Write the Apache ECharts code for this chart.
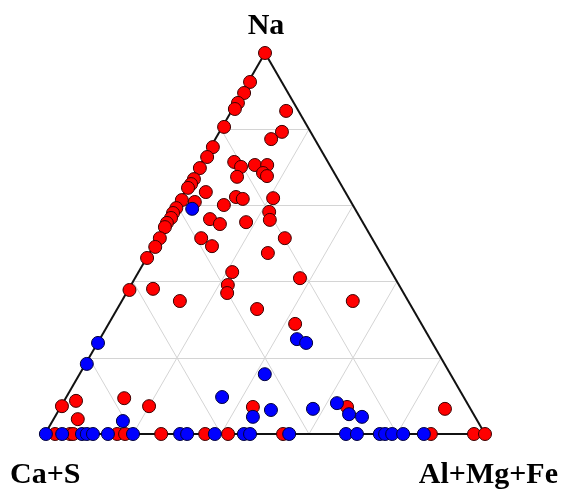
<!DOCTYPE html>
<html>
<head>
<meta charset="utf-8">
<script src="https://cdn.jsdelivr.net/npm/echarts@6/dist/echarts.min.js"></script>
<style>
  html, body { margin: 0; padding: 0; background: #fff; }
  #chart { width: 563px; height: 494px; }
</style>
</head>
<body>
<div id="chart"></div>
<script>
// vertex names
var corners = ['Ca+S', 'Na', 'Al+Mg+Fe'];
// grid levels, percent
var gridTicks = [20, 40, 60, 80];

// [Ca+S, Na, Al+Mg+Fe] in percent
var redPoints = [
  [0, 100, 0], [7.2, 92.4, 0.4], [10.0, 89.5, 0.5], [12.7, 86.9, 0.4], [14.2, 85.3, 0.5],
  [2.8, 84.8, 12.4], [19.0, 80.6, 0.4], [6.5, 79.3, 14.2], [9.9, 77.4, 12.7], [24.2, 75.3, 0.5],
  [26.8, 72.7, 0.5], [29.9, 69.8, 0.3], [21.3, 71.4, 7.3], [20.4, 70.1, 9.5], [17.0, 70.6, 12.4],
  [14.2, 70.6, 15.2], [16.2, 68.5, 15.3], [15.7, 67.7, 16.6], [22.6, 67.5, 9.9], [32.7, 66.9, 0.4],
  [34.0, 65.6, 0.4], [35.2, 64.6, 0.2], [31.7, 63.5, 4.8], [25.5, 62.2, 12.3], [24.2, 61.7, 14.1],
  [17.2, 61.9, 20.9], [38.2, 61.4, 0.4], [35.5, 60.9, 3.6], [29.3, 60.1, 10.6], [40.5, 59.3, 0.2],
  [41.9, 58.0, 0.1], [43.0, 56.7, 0.3], [44.6, 55.4, 0.0], [45.6, 54.3, 0.1], [19.9, 58.3, 21.8],
  [20.8, 56.2, 23.0], [34.3, 56.4, 9.3], [32.7, 55.1, 12.2], [26.5, 55.6, 17.9], [48.2, 51.4, 0.4],
  [50.4, 49.1, 0.5], [53.7, 46.2, 0.1], [38.8, 51.4, 9.8], [37.4, 49.3, 13.3], [19.8, 51.4, 28.8],
  [25.6, 47.5, 26.9], [36.2, 42.5, 21.3], [38.9, 39.1, 22.0], [40.1, 37.0, 22.9], [61.9, 37.8, 0.3],
  [56.4, 38.1, 5.5], [51.9, 34.9, 13.2], [21.6, 40.9, 37.5], [12.6, 34.9, 52.5], [35.4, 32.8, 31.8],
  [28.7, 28.9, 42.4], [92.5, 7.3, 0.2], [88.6, 8.7, 2.7], [90.6, 3.9, 5.5], [77.3, 9.4, 13.3],
  [72.7, 7.3, 20.0], [49.2, 7.1, 43.7], [27.8, 7.1, 65.1], [5.8, 6.6, 87.6],
  [97.7, 0, 2.3], [94.3, 0, 5.7], [93.6, 0, 6.4], [83.6, 0, 16.4], [81.8, 0, 18.2],
  [73.6, 0, 26.4], [63.6, 0, 36.4], [58.4, 0, 41.6], [45.9, 0, 54.1], [12.3, 0, 87.7],
  [2.5, 0, 97.5], [0, 0, 100]
];

var bluePoints = [
  [37.0, 59.1, 3.9], [30.3, 24.9, 44.8], [28.7, 23.9, 47.4], [42.2, 15.7, 42.1], [76.0, 23.9, 0.1],
  [81.3, 18.4, 0.3], [80.6, 3.4, 16.0], [54.9, 9.7, 35.4], [50.5, 4.5, 45.0], [45.5, 6.3, 48.2],
  [35.8, 6.6, 57.6], [29.6, 8.1, 62.3], [28.3, 5.2, 66.5], [25.7, 4.5, 69.8],
  [99.8, 0, 0.2], [96.1, 0, 3.9], [91.6, 0, 8.4], [90.5, 0, 9.5], [89.1, 0, 10.9],
  [85.7, 0, 14.3], [80, 0, 20], [69.3, 0, 30.7], [67.7, 0, 32.3], [61.4, 0, 38.6],
  [54.8, 0, 45.2], [53.4, 0, 46.6], [44.5, 0, 55.5], [31.6, 0, 68.4], [29.1, 0, 70.9],
  [23.9, 0, 76.1], [22.7, 0, 77.3], [21.1, 0, 78.9], [18.6, 0, 81.4], [13.9, 0, 86.1]
];

var H = Math.sqrt(3) / 2;

// ternary -> cartesian (Ca+S left, Al+Mg+Fe right, Na top)
function toXY(p) {
  var sum = p[0] + p[1] + p[2];
  var n = p[1] / sum, a = p[2] / sum;
  return [a + n / 2, n * H];
}

// light grid lines
var gridLines = [];
gridTicks.forEach(function (t) {
  var k = 100 - t;
  gridLines.push({coords: [toXY([k, t, 0]), toXY([0, t, k])]}); // const Na
  gridLines.push({coords: [toXY([k, 0, t]), toXY([0, k, t])]}); // const Al+Mg+Fe
  gridLines.push({coords: [toXY([t, k, 0]), toXY([t, 0, k])]}); // const Ca+S
});

var frame = [
  {coords: [toXY([100, 0, 0]), toXY([0, 100, 0])]},
  {coords: [toXY([0, 100, 0]), toXY([0, 0, 100])]},
  {coords: [toXY([0, 0, 100]), toXY([100, 0, 0])]}
];

var labelStyle = {
  fontFamily: '"Liberation Serif", "Times New Roman", serif',
  fontWeight: 'bold',
  fontSize: 30,
  fill: '#000',
  verticalAlign: 'middle'
};

function label(text, x, y, align) {
  return {
    type: 'text', x: x, y: y, silent: true,
    style: Object.assign({text: text, align: align}, labelStyle)
  };
}

var chart = echarts.init(document.getElementById('chart'));
chart.setOption({
  animation: false,
  grid: {left: 45, right: 78, top: 53, bottom: 60},
  xAxis: {type: 'value', min: 0, max: 1, show: false},
  yAxis: {type: 'value', min: 0, max: H, show: false},
  graphic: [
    label(corners[1], 266, 26, 'center'),
    label(corners[0], 10, 475, 'left'),
    label(corners[2], 558, 475, 'right')
  ],
  series: [
    {
      type: 'lines',
      coordinateSystem: 'cartesian2d',
      silent: true,
      z: 1,
      lineStyle: {color: '#d4d4d4', width: 1, opacity: 1},
      data: gridLines
    },
    {
      type: 'lines',
      coordinateSystem: 'cartesian2d',
      silent: true,
      z: 2,
      lineStyle: {color: '#111', width: 2, opacity: 1},
      data: frame
    },
    {
      type: 'scatter',
      z: 3,
      symbolSize: 13,
      itemStyle: {color: '#ff0000', borderColor: '#3a0000', borderWidth: 1, opacity: 1},
      data: redPoints.map(toXY)
    },
    {
      type: 'scatter',
      z: 4,
      symbolSize: 13,
      itemStyle: {color: '#0000ff', borderColor: '#00003a', borderWidth: 1, opacity: 1},
      data: bluePoints.map(toXY)
    }
  ]
});
</script>
</body>
</html>
